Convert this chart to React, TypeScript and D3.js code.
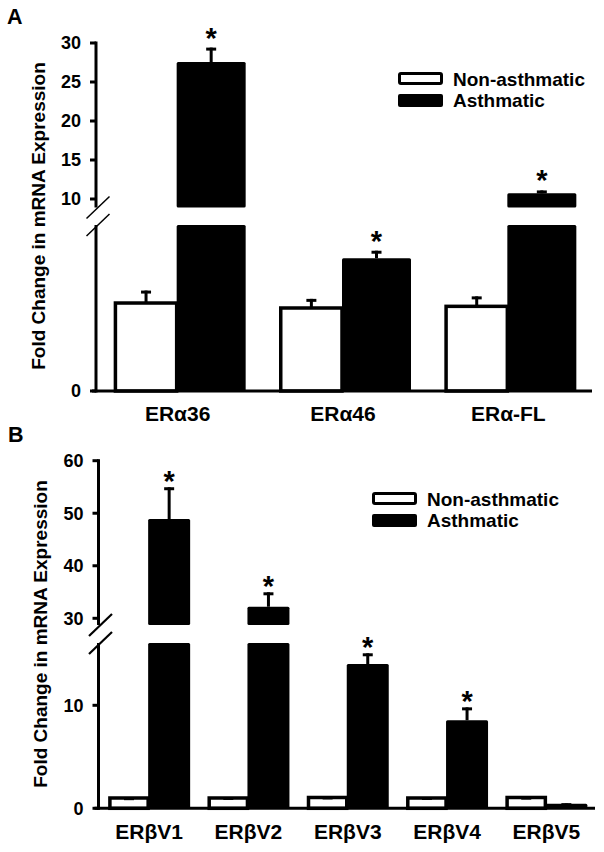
import React from "react";
import * as d3 from "d3";

// ---------- Data ----------
const categoriesA = ["ERα36", "ERα46", "ERα-FL"];
const nonAsthmaticA = [1.06, 1.0, 1.02];
const nonAsthmaticErrA = [0.15, 0.11, 0.12];
const asthmaticA = [27.56, 1.6, 10.73];
const asthmaticErrA = [1.85, 0.09, 0.37];
const significantA = [true, true, true];
const upperTicksA = [10, 15, 20, 25, 30];
const lowerTicksA = [0];

const categoriesB = ["ERβV1", "ERβV2", "ERβV3", "ERβV4", "ERβV5"];
const nonAsthmaticB = [1.0, 1.0, 1.05, 1.0, 1.05];
const nonAsthmaticErrB = [0.08, 0.1, 0.1, 0.1, 0.08];
const asthmaticB = [48.9, 32.2, 14.0, 8.55, 0.45];
const asthmaticErrB = [6.05, 2.75, 1.05, 1.25, 0.05];
const significantB = [true, true, true, true, false];
const upperTicksB = [30, 40, 50, 60];
const lowerTicksB = [0, 10];

const seriesNames = ["Non-asthmatic", "Asthmatic"];
const yTitle = "Fold Change in mRNA Expression";

const FONT = "'Liberation Sans', Arial, sans-serif";

type PanelCfg = {
  letter: string;
  letterPos: [number, number];
  cats: string[];
  non: number[];
  nonErr: number[];
  asth: number[];
  asthErr: number[];
  sig: boolean[];
  upperTicks: number[];
  lowerTicks: number[];
  axisX: number;
  axisRight: number;
  lowerDomain: [number, number];
  lowerRange: [number, number];
  lowerTop: number;
  upperDomain: [number, number];
  upperRange: [number, number];
  upperBottom: number;
  xRange: [number, number];
  whiteW: number;
  blackW: number;
  labelY: number;
  titleX: number;
  titleY: number;
  legendX: number;
  legendY: number;
  legendW: number;
  tickLabelGap: number;
  slashW: number;
  starGap: number;
};

const panelA: PanelCfg = {
  letter: "A",
  letterPos: [7, 24],
  cats: categoriesA,
  non: nonAsthmaticA,
  nonErr: nonAsthmaticErrA,
  asth: asthmaticA,
  asthErr: asthmaticErrA,
  sig: significantA,
  upperTicks: upperTicksA,
  lowerTicks: lowerTicksA,
  axisX: 96,
  axisRight: 592,
  lowerDomain: [0, 2],
  lowerRange: [391, 225],
  lowerTop: 225,
  upperDomain: [10, 30],
  upperRange: [199, 43],
  upperBottom: 207.5,
  xRange: [94, 590],
  whiteW: 63,
  blackW: 69,
  labelY: 421,
  titleX: 45,
  titleY: 216,
  legendX: 398,
  legendY: 72,
  legendW: 45,
  tickLabelGap: 15,
  slashW: 1.5,
  starGap: 16,
};

const panelB: PanelCfg = {
  letter: "B",
  letterPos: [8, 442],
  cats: categoriesB,
  non: nonAsthmaticB,
  nonErr: nonAsthmaticErrB,
  asth: asthmaticB,
  asthErr: asthmaticErrB,
  sig: significantB,
  upperTicks: upperTicksB,
  lowerTicks: lowerTicksB,
  axisX: 98.5,
  axisRight: 595,
  lowerDomain: [0, 10],
  lowerRange: [808.3, 705.3],
  lowerTop: 643,
  upperDomain: [30, 60],
  upperRange: [618.3, 460.7],
  upperBottom: 625,
  xRange: [98.5, 595],
  whiteW: 40,
  blackW: 42,
  labelY: 839,
  titleX: 47,
  titleY: 634,
  legendX: 372,
  legendY: 492,
  legendW: 45,
  tickLabelGap: 15,
  slashW: 2.2,
  starGap: 12,
};

function Panel({ p }: { p: PanelCfg }) {
  const yLow = d3.scaleLinear().domain(p.lowerDomain).range(p.lowerRange);
  const y0 = yLow(0);
  const lowMax = yLow.invert(p.lowerTop);
  const yUp = d3.scaleLinear().domain(p.upperDomain).range(p.upperRange);
  const x = d3.scaleBand().domain(p.cats).range(p.xRange).padding(0);

  const yOf = (v: number) => (v <= lowMax ? yLow(v) : yUp(v));

  const sw = 3.5;
  const barEls: React.ReactNode[] = [];
  p.cats.forEach((c, i) => {
    const cx = x(c)! + x.bandwidth() / 2;
    const wv = p.non[i];
    const wTop = yOf(wv);
    barEls.push(
      <rect
        key={"w" + i}
        x={cx - p.whiteW + sw / 2}
        y={wTop}
        width={p.whiteW - sw / 2}
        height={y0 - wTop}
        fill="#fff"
        stroke="#000"
        strokeWidth={sw}
      />
    );
    const wcx = cx - p.whiteW / 2 + sw / 4;
    const wErrTop = yOf(wv + p.nonErr[i]);
    barEls.push(
      <g key={"we" + i}>
        <line x1={wcx} x2={wcx} y1={wTop} y2={wErrTop} stroke="#000" strokeWidth={3} />
        <line x1={wcx - 5} x2={wcx + 5} y1={wErrTop + 1.5} y2={wErrTop + 1.5} stroke="#000" strokeWidth={3} />
      </g>
    );
    const bv = p.asth[i];
    const bcx = cx + p.blackW / 2;
    if (bv <= lowMax) {
      const t = yLow(bv);
      barEls.push(
        <rect key={"b" + i} x={cx} y={t} width={p.blackW} height={y0 - t} fill="#000" rx={1.5} />
      );
    } else {
      barEls.push(
        <rect key={"bl" + i} x={cx} y={p.lowerTop} width={p.blackW} height={y0 - p.lowerTop} fill="#000" rx={1.5} />
      );
      const t = yUp(bv);
      barEls.push(
        <rect key={"bu" + i} x={cx} y={t} width={p.blackW} height={p.upperBottom - t} fill="#000" rx={1.5} />
      );
    }
    const bTop = yOf(bv);
    const bErrTop = yOf(bv + p.asthErr[i]);
    barEls.push(
      <g key={"be" + i}>
        <line x1={bcx} x2={bcx} y1={bTop} y2={bErrTop} stroke="#000" strokeWidth={3} />
        <line x1={bcx - 5} x2={bcx + 5} y1={bErrTop + 1.5} y2={bErrTop + 1.5} stroke="#000" strokeWidth={3} />
      </g>
    );
    if (p.sig[i]) {
      const starC = bErrTop - p.starGap;
      barEls.push(
        <text
          key={"s" + i}
          x={bcx}
          y={starC + 16}
          textAnchor="middle"
          fontFamily={FONT}
          fontWeight="bold"
          fontSize={29}
        >
          *
        </text>
      );
    }
    barEls.push(
      <text
        key={"l" + i}
        x={cx + 1}
        y={p.labelY}
        textAnchor="middle"
        fontFamily={FONT}
        fontWeight="bold"
        fontSize={21}
      >
        {c}
      </text>
    );
  });

  const tickFont = 18;
  const tickEl = (t: number, y: number, key: string) => (
    <g key={key}>
      <line x1={p.axisX - 6} x2={p.axisX} y1={y} y2={y} stroke="#000" strokeWidth={3} />
      <text
        x={p.axisX - p.tickLabelGap}
        y={y + 6.4}
        textAnchor="end"
        fontFamily={FONT}
        fontWeight="bold"
        fontSize={tickFont}
      >
        {t}
      </text>
    </g>
  );
  const ticks: React.ReactNode[] = [
    ...p.upperTicks.map((t) => tickEl(t, yUp(t), "ut" + t)),
    ...p.lowerTicks.map((t) => tickEl(t, yLow(t), "lt" + t)),
  ];

  const upTop = p.upperRange[1];
  const slashDx = 11.5;
  const slashDy = 11;

  return (
    <g>
      <text x={p.letterPos[0]} y={p.letterPos[1]} fontFamily={FONT} fontWeight="bold" fontSize={21.5}>
        {p.letter}
      </text>
      <text
        transform={`translate(${p.titleX},${p.titleY}) rotate(-90)`}
        textAnchor="middle"
        fontFamily={FONT}
        fontWeight="bold"
        fontSize={19}
      >
        {yTitle}
      </text>
      {barEls}
      <line x1={p.axisX} x2={p.axisX} y1={upTop - 1.5} y2={p.upperBottom} stroke="#000" strokeWidth={3} />
      <line x1={p.axisX} x2={p.axisX} y1={p.lowerTop} y2={y0 + 1.5} stroke="#000" strokeWidth={3} />
      <line
        x1={p.axisX - slashDx + 2}
        x2={p.axisX + slashDx + 2}
        y1={p.upperBottom + slashDy}
        y2={p.upperBottom - slashDy}
        stroke="#000"
        strokeWidth={p.slashW}
      />
      <line
        x1={p.axisX - slashDx + 2}
        x2={p.axisX + slashDx + 2}
        y1={p.lowerTop + slashDy}
        y2={p.lowerTop - slashDy}
        stroke="#000"
        strokeWidth={p.slashW}
      />
      <line x1={p.axisX - 4} x2={p.axisRight} y1={y0} y2={y0} stroke="#000" strokeWidth={3} />
      {ticks}
      <rect
        x={p.legendX + 1.5}
        y={p.legendY + 1.5}
        width={p.legendW - 3}
        height={10}
        fill="#fff"
        stroke="#000"
        strokeWidth={3}
        rx={1.5}
      />
      <rect x={p.legendX} y={p.legendY + 22} width={p.legendW} height={13} fill="#000" rx={2} />
      <text x={p.legendX + p.legendW + 10} y={p.legendY + 13.5} fontFamily={FONT} fontWeight="bold" fontSize={19}>
        {seriesNames[0]}
      </text>
      <text x={p.legendX + p.legendW + 10} y={p.legendY + 35.3} fontFamily={FONT} fontWeight="bold" fontSize={19}>
        {seriesNames[1]}
      </text>
    </g>
  );
}

export default function App() {
  return (
    <svg
      width={604}
      height={852}
      viewBox="0 0 604 852"
      style={{ position: "absolute", left: 0, top: 0, background: "#fff" }}
    >
      <rect x={0} y={0} width={604} height={852} fill="#fff" />
      <Panel p={panelA} />
      <Panel p={panelB} />
    </svg>
  );
}
